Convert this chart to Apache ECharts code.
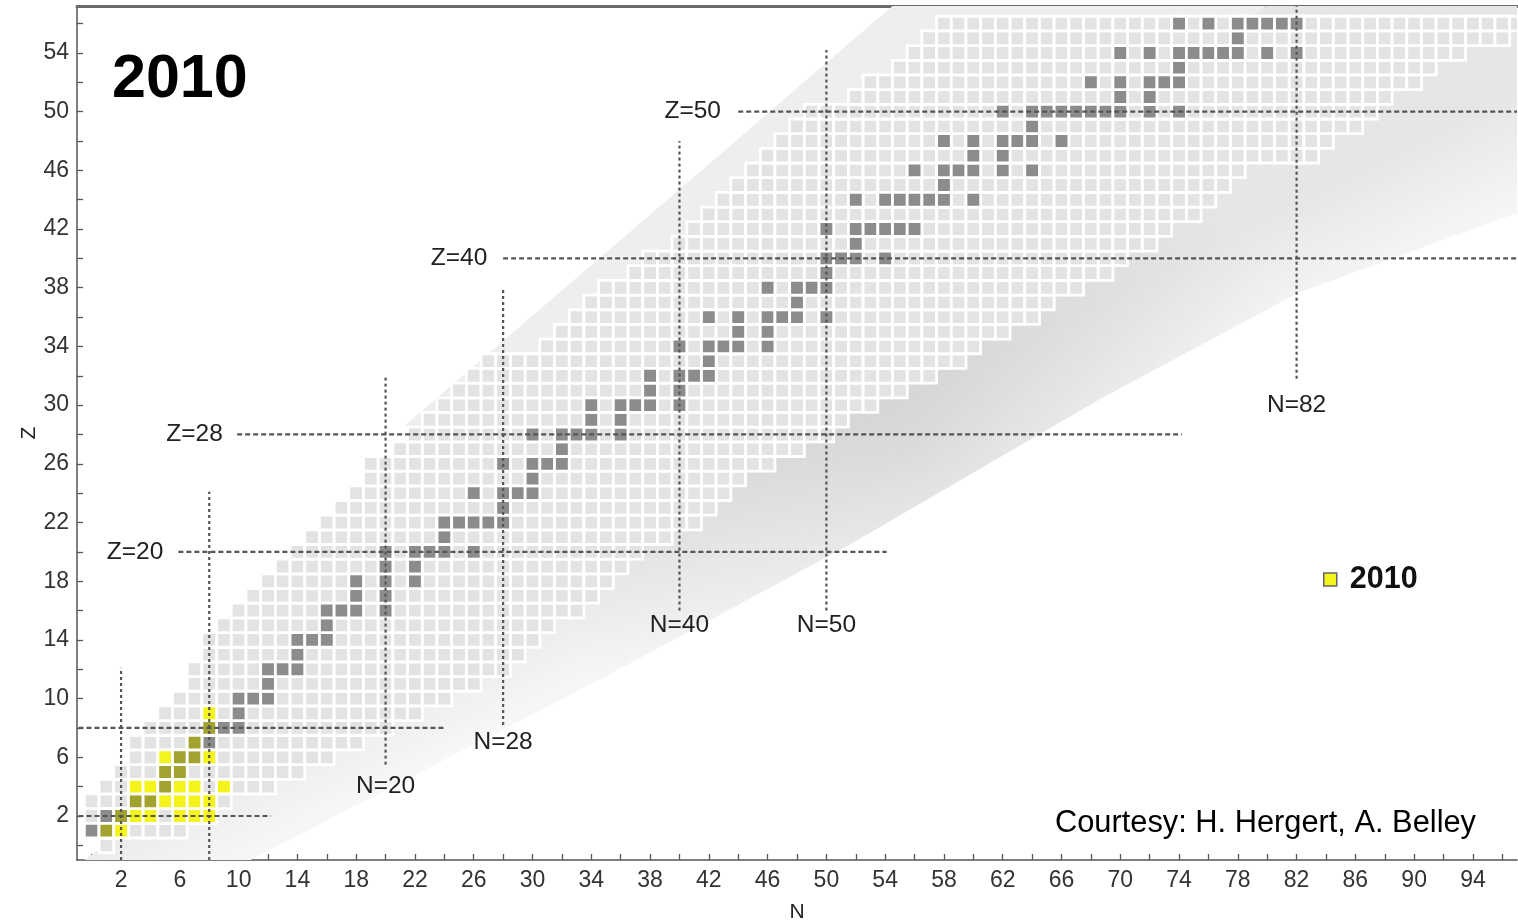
<!DOCTYPE html>
<html><head><meta charset="utf-8">
<script src="https://cdn.jsdelivr.net/npm/echarts@6/dist/echarts.min.js"></script>
<style>html,body{margin:0;padding:0;background:#fff}#c{width:1518px;height:922px}</style>
</head><body><div id="c"></div>
<script>
// ---------- data ----------
// light-grey region: for each Z (index 0..56) the lowest / highest N drawn
const nMinByZ = [1,0,0,0,1,2,3,3,4,5,6,7,7,8,8,9,10,11,12,13,14,15,16,17,18,19,19,21,22,23,24,25,26,27,31,32,33,34,35,37,38,40,41,42,43,44,45,46,47,48,49,52,53,55,56,57,58];
const nMaxByZ = [1,6,8,9,12,14,16,18,20,22,24,26,28,29,30,31,33,34,35,36,37,39,41,42,43,44,46,48,50,51,53,55,57,59,60,62,64,65,67,69,70,72,73,75,76,77,78,83,84,86,87,88,90,91,93,96,97];
// dark grey cells (stable nuclei): N values for each Z
const stableNByZ = [
 [],[0,1],[1,2],[3,4],[5],[5,6],[6,7],[7,8],[8,9,10],[10],
 [10,11,12],[12],[12,13,14],[14],[14,15,16],[16],[16,17,18,20],[18,20],[18,20,22],[20,22],
 [20,22,23,24,26],[24],[24,25,26,27,28],[28],[26,28,29,30],[30],[28,30,31,32],[32],[30,32,33,34,36],[34,36],
 [34,36,37,38,40],[38,40],[38,40,41,42],[42],[40,42,43,44,46],[44,46],[42,44,46,47,48,50],[48],[46,48,49,50],[50],
 [50,51,52,54],[52],[50,52,53,54,55,56],[],[52,54,55,56,57,58,60],[58],[56,58,59,60,62,64],[60,62],[58,60,62,63,64,66],[64],
 [62,64,65,66,67,68,69,70,72,74],[70,72],[68,70,72,73,74],[74],[70,72,74,75,76,77,78,80,82],[78],[74,76,78,79,80,81,82]
];
// yellow cells (2010): N values for each Z
const year2010NByZ = [[],[1,2],[2,3,4,6,7,8],[3,4,5,6,7,8],[3,4,5,6,7,9],[5,6],[5,6,7,8],[7],[8],[8]];

// magic-number guide lines: [Z, Nfrom, Nto] and [N, Zfrom, Zto]
const zGuideLines = [[2,-0.9,12.2],[8,-0.9,24.1],[20,5.9,54.1],[28,9.9,74.2],[40,28.0,97],[50,44.0,97]];
const nGuideLines = [[2,-1,12.1],[8,-1,24.1],[20,5.5,32.0],[28,8.2,38.0],[40,16.0,48.0],[50,16.0,54.2],[82,31.8,57.2]];
const guideLabels = [['Z=20',2.95,20],['Z=28',7.0,28],['Z=40',25.0,40],['Z=50',40.9,50],
                     ['N=20',20,4.05],['N=28',28,7.04],['N=40',40,15.0],['N=50',50,15.0],['N=82',82,30.0]];

// background bands (N,Z outlines)
const upperBand = [[54.5,57.2],[21.3,28.6],[30,25],[60,45],[80,57.2]];
const lowerBand = [[-0.5,-1],[10.8,-1],[34.6,11.3],[51.6,20.5],[68.6,30.4],[82.2,37.7],[97,43.1],[97,57.2],[80,57.2],[60,45],[30,25],[5,3]];

// axis ticks / labels
const xTickValues = [0,2,4,6,8,10,12,14,16,18,20,22,24,26,28,30,32,34,36,38,40,42,44,46,48,50,52,54,56,58,60,62,64,66,68,70,72,74,76,78,80,82,84,86,88,90,92,94,96];
const xLabelValues = [2,6,10,14,18,22,26,30,34,38,42,46,50,54,58,62,66,70,74,78,82,86,90,94];
const yTickValues = [0,2,4,6,8,10,12,14,16,18,20,22,24,26,28,30,32,34,36,38,40,42,44,46,48,50,52,54,56];
const yLabelValues = [2,6,10,14,18,22,26,30,34,38,42,46,50,54];

// ---------- build ----------
const lightCells = [];
nMinByZ.forEach((lo, z) => { for (let n = lo; n <= nMaxByZ[z]; n++) lightCells.push([n, z]); });
const darkCells = [];
stableNByZ.forEach((ns, z) => ns.forEach(n => darkCells.push([n, z])));
const yellowCells = [];
year2010NByZ.forEach((ns, z) => ns.forEach(n => {
  const both = (stableNByZ[z] || []).includes(n);
  yellowCells.push({ value: [n, z], itemStyle: { color: both ? '#a2a22e' : '#f4f41c' } });
}));

const FONT = "'Liberation Sans', Arial, Helvetica, sans-serif";

function cellItem(params, api) {
  const c = api.coord([api.value(0), api.value(1)]);
  const s = api.size([1, 1]);
  return { type: 'rect',
    shape: { x: c[0] - s[0] / 2, y: c[1] - s[1] / 2, width: s[0], height: s[1] },
    style: { fill: api.visual('color'), stroke: '#ffffff', lineWidth: 2.8 } };
}
function polyRender(points, fillFn) {
  return function (params, api) {
    return { type: 'polygon', shape: { points: points.map(p => api.coord(p)) }, style: { fill: fillFn(api) } };
  };
}

const series = [];
series.push({ type: 'custom', name: 'bandUp', silent: true, clip: true, z: 1, data: [[0, 0]],
  renderItem: polyRender(upperBand, () => '#eeeeee') });
series.push({ type: 'custom', name: 'bandLow', silent: true, clip: true, z: 1, data: [[0, 0]],
  renderItem: polyRender(lowerBand, (api) => {
    const a = api.coord([50.5, 28]);
    const b = [a[0] + 0.45 * 140, a[1] + 0.89 * 140];
    return new echarts.graphic.LinearGradient(a[0], a[1], b[0], b[1],
      [{ offset: 0, color: '#e6e6e6' }, { offset: 1, color: '#fbfbfb' }], true);
  }) });
series.push({ type: 'custom', name: 'bandShade', silent: true, clip: true, z: 1, data: [[0, 0]],
  renderItem: polyRender(lowerBand, (api) => {
    const c = api.coord([56, 27]);
    return new echarts.graphic.RadialGradient(c[0], c[1], 400,
      [{ offset: 0, color: 'rgba(0,0,0,0.08)' }, { offset: 1, color: 'rgba(0,0,0,0)' }], true);
  }) });
series.push({ type: 'custom', name: 'light', silent: true, clip: true, z: 2, data: lightCells,
  itemStyle: { color: '#e3e3e3' }, renderItem: cellItem });
series.push({ type: 'custom', name: 'stable', silent: true, clip: true, z: 3, data: darkCells,
  itemStyle: { color: '#8c8c8c' }, renderItem: cellItem });
series.push({ type: 'custom', name: '2010', silent: true, clip: true, z: 4, data: yellowCells,
  itemStyle: { color: '#f4f41c' }, renderItem: cellItem });

const guideStyle = { color: '#555555', width: 2.2 };
zGuideLines.forEach(([z, a, b]) => series.push({ type: 'line', silent: true, z: 5, symbol: 'none',
  data: [[a, z], [b, z]], lineStyle: Object.assign({ type: [5, 3] }, guideStyle) }));
nGuideLines.forEach(([n, a, b]) => series.push({ type: 'line', silent: true, z: 5, symbol: 'none',
  data: [[n, a], [n, b]], lineStyle: Object.assign({ type: [3, 3] }, guideStyle) }));
series.push({ type: 'custom', silent: true, clip: false, z: 6,
  data: guideLabels.map(l => [l[1], l[2], l[0]]),
  renderItem: (params, api) => {
    const c = api.coord([api.value(0), api.value(1)]);
    return { type: 'text', x: c[0], y: c[1],
      style: { text: guideLabels[params.dataIndex][0], fill: '#222', font: '24.5px ' + FONT, align: 'center', verticalAlign: 'middle' } };
  } });

const chart = echarts.init(document.getElementById('c'), null, { renderer: 'canvas' });
chart.setOption({
  animation: false,
  backgroundColor: '#ffffff',
  grid: { left: 77, right: 1, top: 6, bottom: 62, containLabel: false, outerBoundsMode: 'none' },
  legend: { data: [{ name: '2010', icon: 'rect', itemStyle: { color: '#f4f41c', borderColor: '#666', borderWidth: 1.5 } }],
    left: 1318, top: 559, itemWidth: 13, itemHeight: 13,
    textStyle: { fontFamily: FONT, fontSize: 30.5, fontWeight: 'bold', color: '#111', padding: [0, 0, 0, 8] }, selectedMode: false },
  graphic: [
    { type: 'text', left: 112, top: 50, style: { text: '2010', font: 'bold 61px ' + FONT, fill: '#000' } },
    { type: 'text', right: 42, top: 808, style: { text: 'Courtesy: H. Hergert, A. Belley', font: '30.8px ' + FONT, fill: '#000' } }
  ],
  xAxis: [{
    type: 'value', min: -1, max: 97, position: 'bottom',
    name: 'N', nameLocation: 'middle', nameGap: 42, nameMoveOverlap: false, nameTextStyle: { fontFamily: FONT, fontSize: 21, color: '#222' },
    axisLine: { show: true, onZero: false, lineStyle: { color: '#555', width: 1.5 } },
    axisTick: { show: true, inside: true, length: 6, customValues: xTickValues, lineStyle: { color: '#555', width: 1.3 } },
    axisLabel: { customValues: xLabelValues, fontFamily: FONT, fontSize: 23, color: '#333', margin: 9 },
    splitLine: { show: false }
  }, {
    type: 'value', min: -1, max: 97, position: 'top',
    axisLine: { show: true, onZero: false, lineStyle: { color: '#6a6a6a', width: 3 } },
    axisTick: { show: false }, axisLabel: { show: false }, splitLine: { show: false }
  }],
  yAxis: {
    type: 'value', min: -1, max: 57.2,
    name: 'Z', nameLocation: 'middle', nameGap: 37, nameMoveOverlap: false, nameRotate: 90, nameTextStyle: { fontFamily: FONT, fontSize: 21, color: '#222' },
    axisLine: { show: true, onZero: false, lineStyle: { color: '#555', width: 1.5 } },
    axisTick: { show: true, inside: true, length: 6, customValues: yTickValues, lineStyle: { color: '#555', width: 1.3 } },
    axisLabel: { customValues: yLabelValues, fontFamily: FONT, fontSize: 23, color: '#333', margin: 8 },
    splitLine: { show: false }
  },
  series: series
});
</script>
</body></html>
